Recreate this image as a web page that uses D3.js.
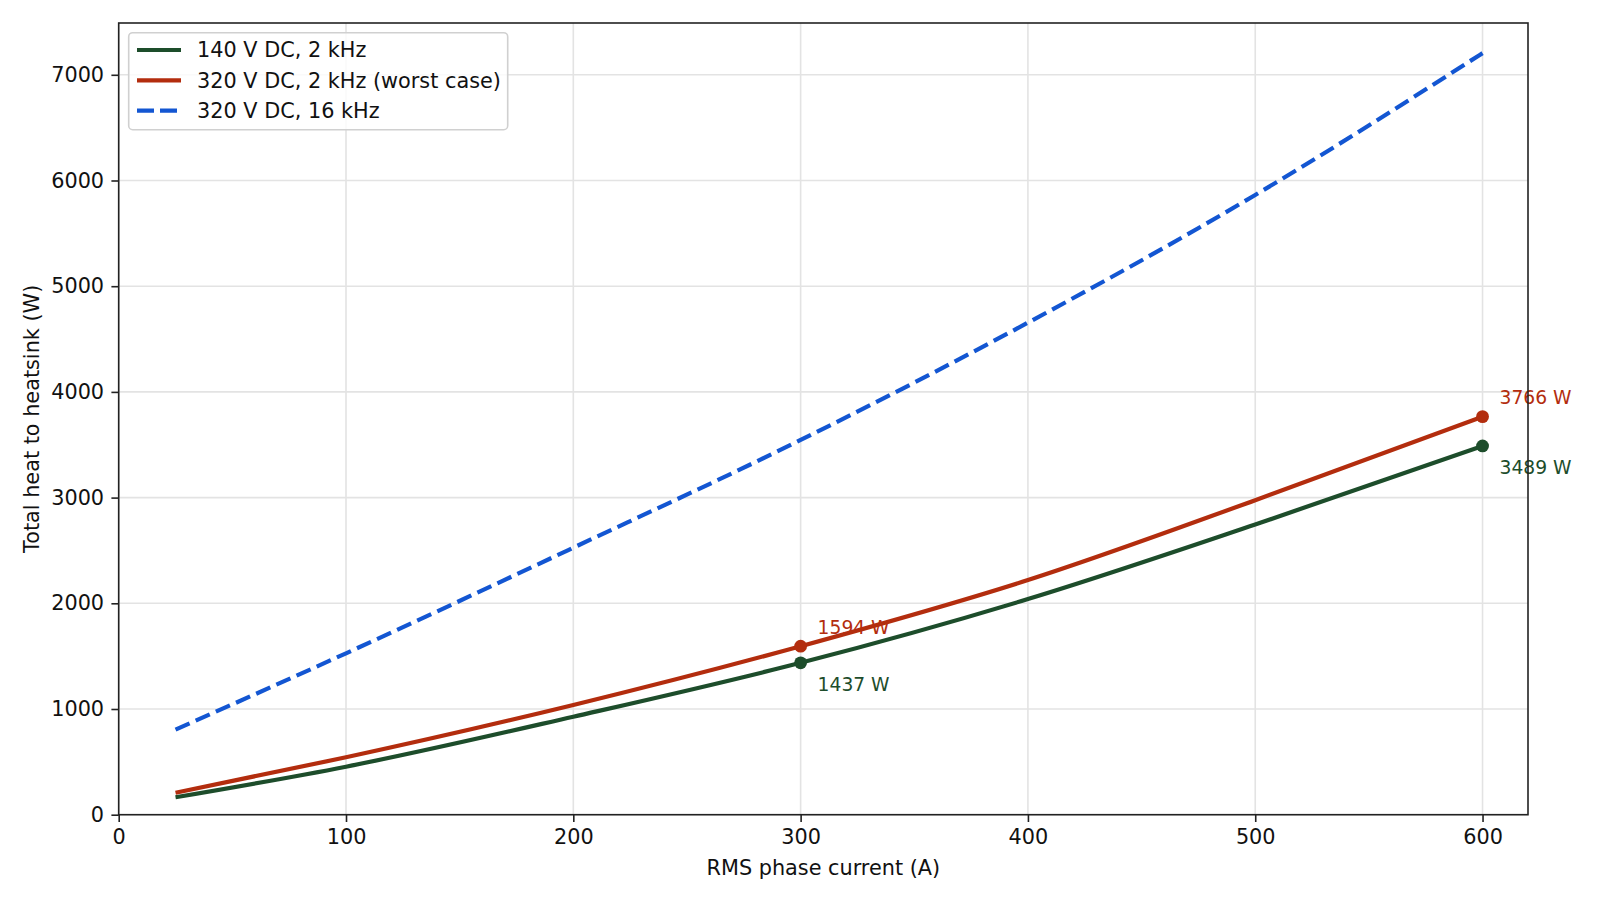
<!DOCTYPE html>
<html>
<head>
<meta charset="utf-8">
<script src="https://cdn.jsdelivr.net/npm/d3@7"></script>
<style>
  body { margin: 0; background: #fff; }
  text { font-family: "DejaVu Sans", sans-serif; }
</style>
</head>
<body>
<script>
const width = 1600;
const height = 900;

const margin = {
    left: 118.7,
    right: 72,
    top: 23,
    bottom: 85.3
};

// values
const currents = [25, 100, 200, 300, 400, 500, 600];
const heat140v2k = [165, 454, 927, 1437, 2040, 2745, 3489];
const heat320v2k = [208, 543, 1038, 1594, 2220, 2975, 3766];
const heat320v16k = [805, 1527, 2526, 3545, 4655, 5863, 7205];

const seriesNames = ["140 V DC, 2 kHz", "320 V DC, 2 kHz (worst case)", "320 V DC, 16 kHz"];
const seriesColors = ["#1d4d2b", "#b32d0e", "#1356d2"];
const markedCurrents = [300, 600];

const xTicks = [0, 100, 200, 300, 400, 500, 600];
const yTicks = [0, 1000, 2000, 3000, 4000, 5000, 6000, 7000];

const series = [heat140v2k, heat320v2k, heat320v16k].map((vals, i) => ({
    name: seriesNames[i],
    color: seriesColors[i],
    dashed: i === 2,
    values: currents.map((c, j) => ({ x: c, y: vals[j] }))
}));

let svg = d3.select("body").append("svg")
    .attr("width", width)
    .attr("height", height);

let xScale = d3.scaleLinear()
    .domain([0, 620])
    .range([margin.left, width - margin.right]);

let yScale = d3.scaleLinear()
    .domain([0, 7490])
    .range([height - margin.bottom, margin.top]);

// grid
svg.append("g")
    .selectAll("line")
    .data(xTicks)
    .join("line")
    .attr("x1", d => xScale(d)).attr("x2", d => xScale(d))
    .attr("y1", margin.top).attr("y2", height - margin.bottom)
    .attr("stroke", "#e3e3e3")
    .attr("stroke-width", 1.6);

svg.append("g")
    .selectAll("line")
    .data(yTicks)
    .join("line")
    .attr("x1", margin.left).attr("x2", width - margin.right)
    .attr("y1", d => yScale(d)).attr("y2", d => yScale(d))
    .attr("stroke", "#e3e3e3")
    .attr("stroke-width", 1.6);

// axes
let xAxis = svg.append("g")
    .attr("transform", "translate(0," + (height - margin.bottom) + ")")
    .call(d3.axisBottom(xScale).tickValues(xTicks).tickSize(7.3).tickPadding(7.3).tickSizeOuter(0));

let yAxis = svg.append("g")
    .attr("transform", "translate(" + margin.left + ",0)")
    .call(d3.axisLeft(yScale).tickValues(yTicks).tickFormat(d3.format("d")).tickSize(7.3).tickPadding(7.3).tickSizeOuter(0));

[xAxis, yAxis].forEach(a => {
    a.select(".domain").remove();
    a.selectAll(".tick line").attr("stroke", "#222").attr("stroke-width", 1.6);
    a.selectAll(".tick text")
        .attr("fill", "#111")
        .style("font-size", "20.8px")
        .style("font-family", "DejaVu Sans");
});

// curves
let line = d3.line()
    .curve(d3.curveMonotoneX)
    .x(d => xScale(d.x))
    .y(d => yScale(d.y));

svg.selectAll(".curve")
    .data(series)
    .join("path")
    .attr("class", "curve")
    .attr("fill", "none")
    .attr("stroke", d => d.color)
    .attr("stroke-width", 4.2)
    .attr("stroke-dasharray", d => d.dashed ? "15.4,6.7" : null)
    .attr("d", d => line(d.values));

// marked points with labels
const solid = series.slice(0, 2);
solid.forEach((s, i) => {
    markedCurrents.forEach(c => {
        const p = s.values.find(v => v.x === c);
        svg.append("circle")
            .attr("cx", xScale(p.x))
            .attr("cy", yScale(p.y))
            .attr("r", 6.4)
            .attr("fill", s.color);
        svg.append("text")
            .attr("x", xScale(p.x) + 17)
            .attr("y", yScale(p.y) + (i === 1 ? -12.5 : 28))
            .attr("fill", s.color)
            .style("font-size", "18.7px")
            .text(Math.round(p.y) + " W");
    });
});

// frame
svg.append("rect")
    .attr("x", margin.left)
    .attr("y", margin.top)
    .attr("width", width - margin.left - margin.right)
    .attr("height", height - margin.top - margin.bottom)
    .attr("fill", "none")
    .attr("stroke", "#222")
    .attr("stroke-width", 1.6);

// axis titles
svg.append("text")
    .attr("x", (margin.left + width - margin.right) / 2)
    .attr("y", 875)
    .attr("text-anchor", "middle")
    .attr("fill", "#111")
    .style("font-size", "20.8px")
    .text("RMS phase current (A)");

svg.append("text")
    .attr("transform", `translate(38.5, ${(margin.top + height - margin.bottom) / 2}) rotate(-90)`)
    .attr("text-anchor", "middle")
    .attr("fill", "#111")
    .style("font-size", "20.8px")
    .text("Total heat to heatsink (W)");

// legend
let legend = svg.append("g");
legend.append("rect")
    .attr("x", 128.7).attr("y", 32.7)
    .attr("width", 379).attr("height", 97)
    .attr("rx", 4)
    .attr("fill", "#fff").attr("fill-opacity", 0.8)
    .attr("stroke", "#d0d0d0").attr("stroke-width", 1.6);

series.forEach((s, i) => {
    const cy = 50 + i * 30.3;
    legend.append("line")
        .attr("x1", 137).attr("x2", 181)
        .attr("y1", cy).attr("y2", cy)
        .attr("stroke", s.color)
        .attr("stroke-width", 4.2)
        .attr("stroke-dasharray", s.dashed ? "17,6" : null);
    legend.append("text")
        .attr("x", 197).attr("y", cy)
        .attr("dy", "0.36em")
        .attr("fill", "#111")
        .style("font-size", "20.8px")
        .text(s.name);
});
</script>
</body>
</html>
